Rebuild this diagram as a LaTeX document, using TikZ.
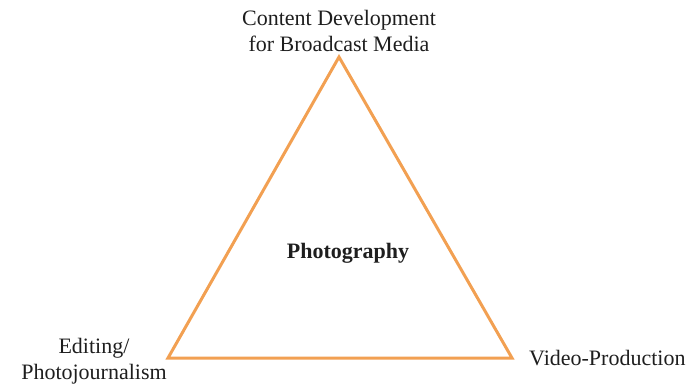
\documentclass[tikz,border=0pt]{standalone}
\usepackage{fontspec}
\setmainfont{Liberation Serif}
\definecolor{tri}{RGB}{242,160,82}
\definecolor{txt}{RGB}{30,30,30}
\begin{document}
\begin{tikzpicture}[x=1pt,y=-1pt,
  lab/.style={text=txt,font=\fontsize{22}{25.5}\selectfont,inner sep=0pt,align=center}]
\useasboundingbox (0,0) rectangle (691,386);
\coordinate (t) at (339,57);
\coordinate (l) at (168,358);
\coordinate (r) at (512,358);
\draw[tri,line width=3pt,line join=miter] (t) -- (r) -- (l) -- cycle;
\node[lab] (top) at (339,31) {Content Development\\for Broadcast Media};
\node[lab] (left) at (94,361) {Editing/\\Photojournalism};
\node[lab,anchor=west] (right) at (529,358) {Video-Production};
\node[lab,font=\fontsize{22}{25.5}\selectfont\bfseries] (center) at (348,253) {Photography};
\end{tikzpicture}
\end{document}
